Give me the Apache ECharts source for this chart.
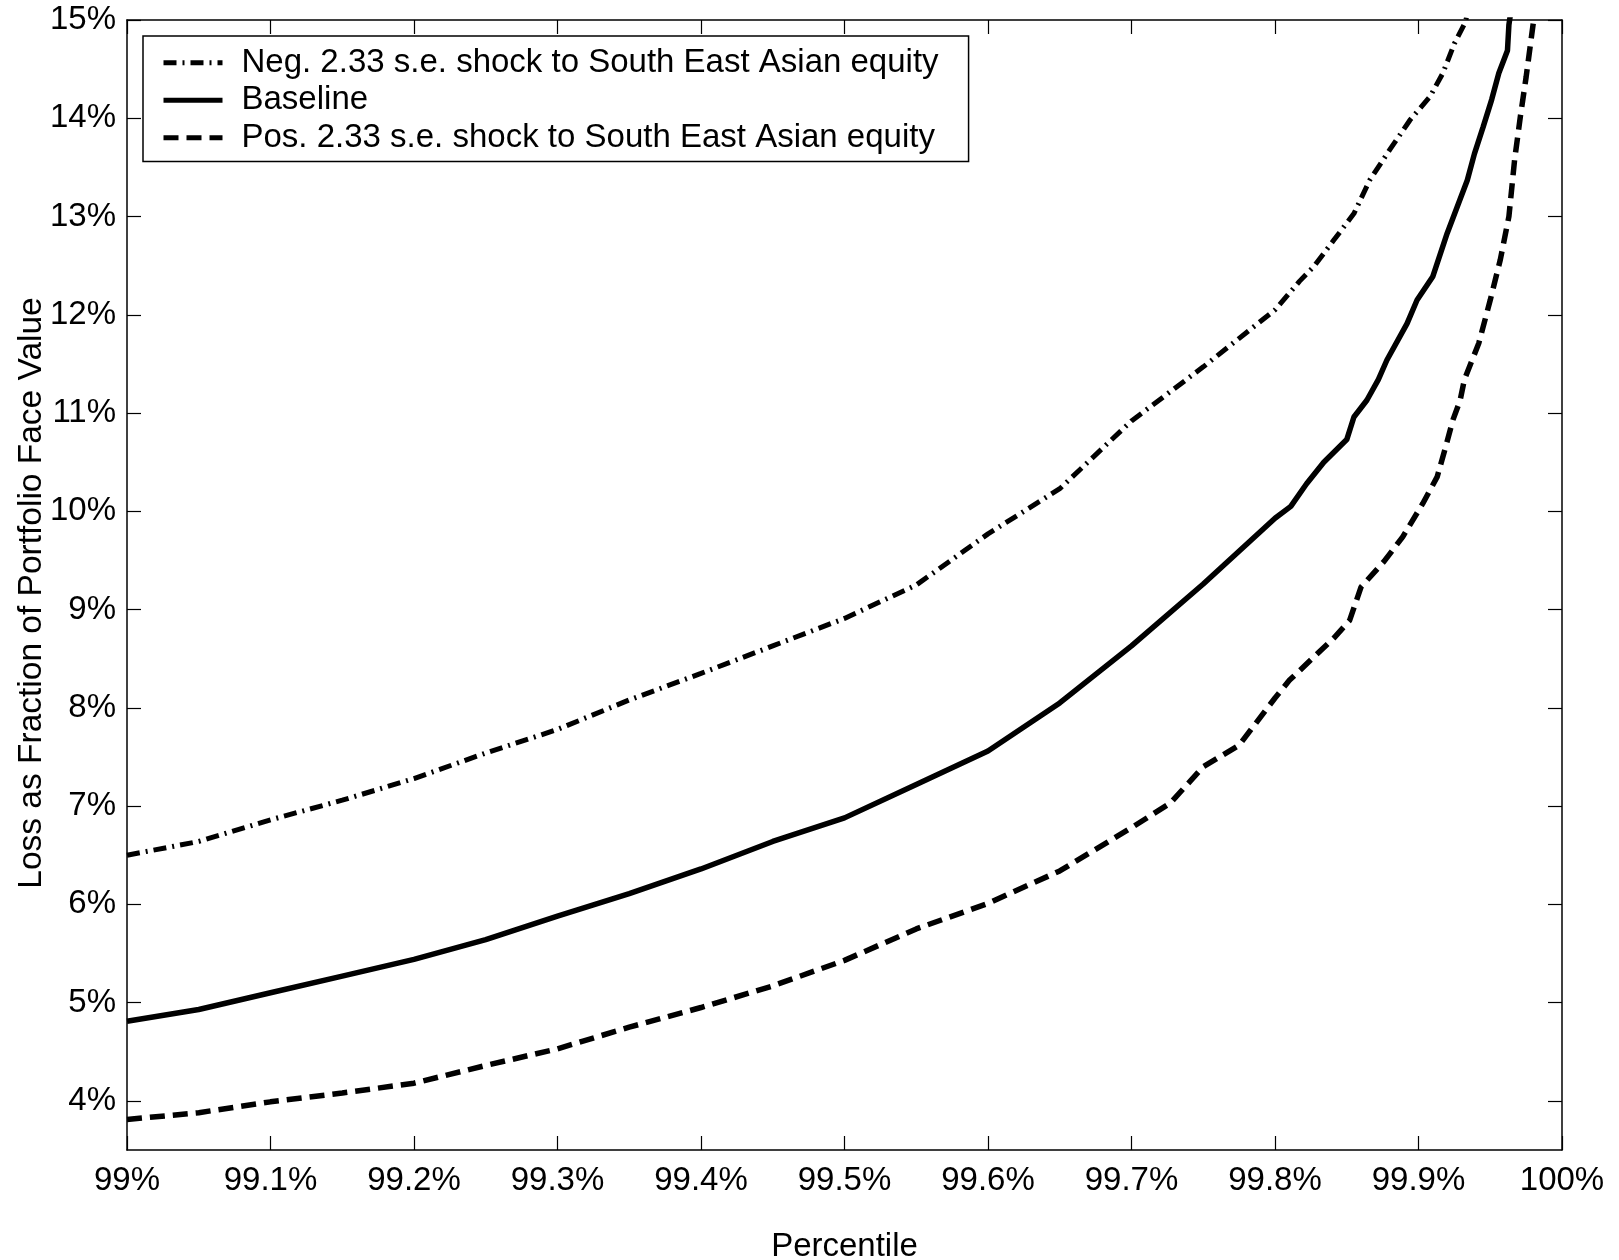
<!DOCTYPE html>
<html>
<head>
<meta charset="utf-8">
<title>Loss percentiles under South East Asian equity shocks</title>
<script src="https://cdn.jsdelivr.net/npm/echarts@6/dist/echarts.min.js"></script>
<style>
  html, body { margin: 0; padding: 0; background: #fff; }
  #chart { width: 1619px; height: 1260px; }
</style>
</head>
<body>
<div id="chart"></div>
<script>
// Tick positions and labels
const xTicks = [99, 99.1, 99.2, 99.3, 99.4, 99.5, 99.6, 99.7, 99.8, 99.9, 100];
const yTicks = [4, 5, 6, 7, 8, 9, 10, 11, 12, 13, 14, 15];

// Series names
const seriesNames = [
  'Neg. 2.33 s.e. shock to South East Asian equity',
  'Baseline',
  'Pos. 2.33 s.e. shock to South East Asian equity'
];

// Negative shock: percentile (%) and loss (% of face value)
const negPct = [99.0, 99.05, 99.1, 99.15, 99.2, 99.25, 99.3, 99.35, 99.4, 99.45, 99.5, 99.55, 99.6,
  99.65, 99.7, 99.75, 99.8, 99.817, 99.827, 99.841, 99.855, 99.866, 99.88, 99.894, 99.908,
  99.917, 99.925, 99.932, 99.934];
const negLoss = [6.50, 6.64, 6.86, 7.06, 7.28, 7.54, 7.78, 8.08, 8.35, 8.63, 8.91, 9.25, 9.77,
  10.23, 10.92, 11.47, 12.05, 12.34, 12.49, 12.76, 13.03, 13.37, 13.68, 13.98, 14.22,
  14.46, 14.76, 14.96, 15.05];

// Baseline
const basePct = [99.0, 99.05, 99.1, 99.15, 99.2, 99.25, 99.3, 99.35, 99.4, 99.45, 99.5, 99.55, 99.6,
  99.65, 99.7, 99.75, 99.8, 99.811, 99.822, 99.834, 99.85, 99.855, 99.864, 99.872, 99.878,
  99.892, 99.899, 99.91, 99.92, 99.927, 99.934, 99.939, 99.945, 99.951, 99.956, 99.962,
  99.963, 99.964];
const baseLoss = [4.81, 4.93, 5.10, 5.27, 5.44, 5.64, 5.88, 6.11, 6.36, 6.64, 6.88, 7.22, 7.56,
  8.05, 8.63, 9.26, 9.93, 10.05, 10.28, 10.50, 10.73, 10.96, 11.13, 11.34, 11.54,
  11.91, 12.15, 12.39, 12.83, 13.10, 13.37, 13.64, 13.91, 14.19, 14.46, 14.69,
  14.95, 15.05];

// Positive shock
const posPct = [99.0, 99.05, 99.1, 99.15, 99.2, 99.25, 99.3, 99.35, 99.4, 99.45, 99.5, 99.55, 99.6,
  99.65, 99.7, 99.727, 99.75, 99.775, 99.8, 99.81, 99.841, 99.852, 99.86, 99.876, 99.889,
  99.903, 99.913, 99.919, 99.924, 99.929, 99.932, 99.942, 99.95, 99.957, 99.963, 99.967,
  99.971, 99.975, 99.98, 99.981];
const posLoss = [3.81, 3.88, 3.99, 4.08, 4.18, 4.36, 4.53, 4.75, 4.95, 5.17, 5.43, 5.75, 6.01,
  6.34, 6.78, 7.03, 7.40, 7.62, 8.10, 8.28, 8.71, 8.89, 9.23, 9.49, 9.74,
  10.08, 10.35, 10.66, 10.93, 11.13, 11.34, 11.71, 12.15, 12.56, 13.00, 13.58,
  14.02, 14.42, 14.97, 15.05];

const pairs = (xs, ys) => xs.map((x, i) => [x, ys[i]]);
const font = '"Liberation Sans", Arial, Helvetica, sans-serif';
const ink = '#000';
const pctLabel = v => Number(v.toFixed(1)) + '%';

const axisLine = { show: true, onZero: false, lineStyle: { color: ink, width: 1.5 } };
const tickStyle = { color: ink, width: 1.2 };

// Line styles for the three curves
const negLine = { color: ink, width: 5, type: [13, 6, 2, 6] };
const baseLine = { color: ink, width: 5.5, type: 'solid' };
const posLine = { color: ink, width: 5.5, type: [15, 8] };

const chart = echarts.init(document.getElementById('chart'), null, { renderer: 'canvas' });

chart.setOption({
  animation: false,
  backgroundColor: '#fff',
  textStyle: { fontFamily: font, color: ink },
  grid: { left: 127, right: 57, top: 20, bottom: 110, containLabel: false, outerBoundsMode: 'none' },
  legend: {
    orient: 'vertical',
    left: 143,
    top: 36,
    padding: [8, 30, 5, 18],
    itemGap: 0,
    itemWidth: 59,
    itemHeight: 14,
    backgroundColor: '#fff',
    borderColor: ink,
    borderWidth: 1.5,
    borderRadius: 0,
    itemStyle: { opacity: 0 },
    lineStyle: { width: 5, color: ink },
    textStyle: { fontFamily: font, fontSize: 33, color: ink, lineHeight: 37.5, padding: [0, 0, 0, 14] },
    data: seriesNames
  },
  xAxis: [
    {
      type: 'value', min: 99, max: 100, position: 'bottom',
      axisLine: axisLine,
      axisTick: { show: true, inside: true, length: 14, customValues: xTicks, lineStyle: tickStyle },
      axisLabel: { customValues: xTicks, formatter: pctLabel, fontFamily: font, fontSize: 33, color: ink, margin: 14 },
      splitLine: { show: false },
      name: 'Percentile', nameLocation: 'middle', nameGap: 80, nameMoveOverlap: false,
      nameTextStyle: { fontFamily: font, fontSize: 33, color: ink }
    },
    {
      type: 'value', min: 99, max: 100, position: 'top',
      axisLine: axisLine,
      axisTick: { show: true, inside: true, length: 14, customValues: xTicks, lineStyle: tickStyle },
      axisLabel: { show: false },
      splitLine: { show: false }
    }
  ],
  yAxis: [
    {
      type: 'value', min: 3.5, max: 15, position: 'left',
      axisLine: axisLine,
      axisTick: { show: true, inside: true, length: 14, customValues: yTicks, lineStyle: tickStyle },
      axisLabel: { customValues: yTicks, formatter: pctLabel, fontFamily: font, fontSize: 33, color: ink, margin: 11 },
      splitLine: { show: false },
      name: 'Loss as Fraction of Portfolio Face Value', nameLocation: 'middle', nameGap: 78,
      nameMoveOverlap: false,
      nameTextStyle: { fontFamily: font, fontSize: 33.5, color: ink, padding: [0, 16, 0, 0] }
    },
    {
      type: 'value', min: 3.5, max: 15, position: 'right',
      axisLine: axisLine,
      axisTick: { show: true, inside: true, length: 14, customValues: yTicks, lineStyle: tickStyle },
      axisLabel: { show: false },
      splitLine: { show: false }
    }
  ],
  series: [
    {
      name: seriesNames[0], type: 'line', data: pairs(negPct, negLoss),
      showSymbol: false, symbol: 'none', smooth: false, clip: true,
      lineStyle: negLine
    },
    {
      name: seriesNames[1], type: 'line', data: pairs(basePct, baseLoss),
      showSymbol: false, symbol: 'none', smooth: false, clip: true,
      lineStyle: baseLine
    },
    {
      name: seriesNames[2], type: 'line', data: pairs(posPct, posLoss),
      showSymbol: false, symbol: 'none', smooth: false, clip: true,
      lineStyle: posLine
    }
  ]
});
</script>
</body>
</html>
